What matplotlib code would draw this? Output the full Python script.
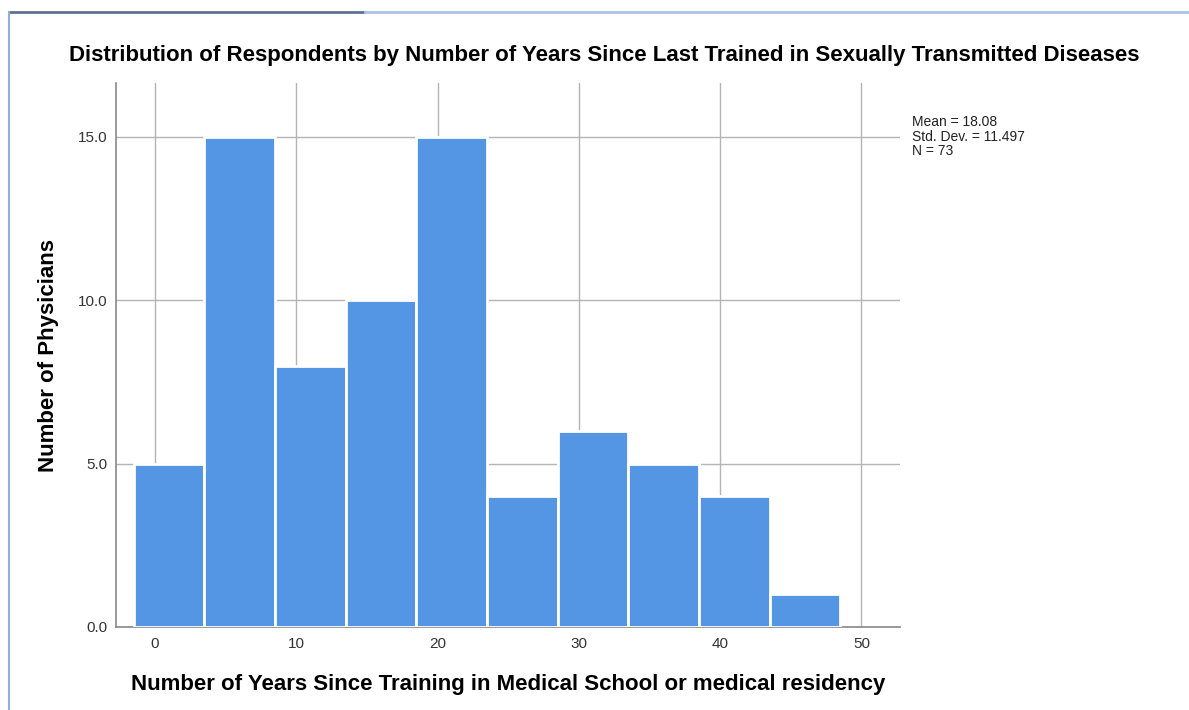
import matplotlib
matplotlib.use("Agg")
import matplotlib.pyplot as plt
from matplotlib.lines import Line2D
import numpy as np

plt.rcParams["font.family"] = ["Liberation Sans", "DejaVu Sans"]

# histogram bins (years) and counts of physicians
BIN_EDGES = [-1.5, 3.5, 8.5, 13.5, 18.5, 23.5, 28.5, 33.5, 38.5, 43.5, 48.5]
COUNTS = [5, 15, 8, 10, 15, 4, 6, 5, 4, 1]
X_TICKS = [0, 10, 20, 30, 40, 50]
Y_TICKS = [0, 5, 10, 15]
STATS = ["Mean = 18.08", "Std. Dev. = 11.497", "N = 73"]

TITLE = "Distribution of Respondents by Number of Years Since Last Trained in Sexually Transmitted Diseases"
XLABEL = "Number of Years Since Training in Medical School or medical residency"
YLABEL = "Number of Physicians"

BAR_COLOR = "#5596e4"
GRID_COLOR = "#b4b4b4"

fig = plt.figure(figsize=(11.89, 7.10), dpi=100)
ax = fig.add_axes([0.0976, 0.117, 0.659, 0.766])

edges = np.array(BIN_EDGES)
ax.bar(edges[:-1], COUNTS, width=np.diff(edges), align="edge",
       color=BAR_COLOR, edgecolor="white", linewidth=2, zorder=3)

ax.set_xlim(-2.75, 52.7)
ax.set_ylim(0, 16.65)
ax.set_xticks(X_TICKS)
ax.set_yticks(Y_TICKS)
ax.set_yticklabels([f"{v:.1f}" for v in Y_TICKS])
ax.tick_params(length=0, labelsize=11, labelcolor="#333333")
ax.tick_params(axis="y", pad=6)
ax.tick_params(axis="x", pad=7)
ax.grid(True, color=GRID_COLOR, linewidth=1, zorder=0)
ax.set_axisbelow(True)

for side in ["top", "right"]:
    ax.spines[side].set_visible(False)
for side in ["left", "bottom"]:
    ax.spines[side].set_color("#888888")
    ax.spines[side].set_linewidth(1.2)

ax.set_xlabel(XLABEL, fontsize=16, fontweight="bold", labelpad=17)
ax.set_ylabel(YLABEL, fontsize=16, fontweight="bold", labelpad=14)

fig.text(0.508, 0.922, TITLE, ha="center", va="center", fontsize=16, fontweight="bold")
fig.text(0.767, 0.838, "\n".join(STATS), ha="left", va="top", fontsize=10,
         linespacing=1.05, color="#222222")

# screenshot window frame
fig.add_artist(Line2D([0.0076, 0.307], [0.983, 0.983], color="#5d7391", linewidth=2))
fig.add_artist(Line2D([0.307, 1.0], [0.983, 0.983], color="#a8c4e6", linewidth=2))
fig.add_artist(Line2D([0.0076, 0.0076], [0.0, 0.983], color="#8fb0d8", linewidth=1.5))

fig.savefig("out.png", dpi=100)
